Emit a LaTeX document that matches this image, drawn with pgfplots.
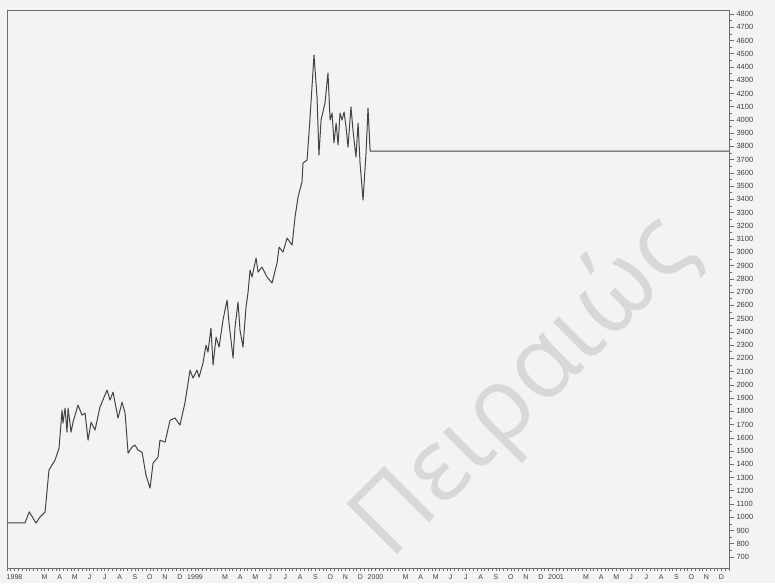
\documentclass[border=0pt]{standalone}
\usepackage{pgfplots}
\pgfplotsset{compat=1.18}
\usepackage{fontspec}
\setmainfont{Liberation Sans}
\newfontfamily\wmfont{Open Sans}
\usetikzlibrary{backgrounds}
\definecolor{bg}{HTML}{F3F3F3}
\definecolor{wm}{HTML}{D8D8D8}
\definecolor{ln}{HTML}{444444}
\definecolor{ax}{HTML}{6E6E6E}
\begin{document}
\begin{tikzpicture}
\begin{axis}[
  name=ax,
  scale only axis,
  width=722pt, height=558pt,
  xmin=0, xmax=48, ymin=617, ymax=4830,
  axis line style={ax, line width=0.8pt},
  axis y line*=right,
  axis x line*=bottom,
  ytick={700,800,...,4800},
  minor y tick num=1,
  yticklabel style={font=\fontsize{7.5}{8}\selectfont, text=black!75, xshift=-1pt},
  /pgf/number format/assume math mode=true,
  /pgf/number format/1000 sep={},
  ytick align=outside,
  xtick align=outside,
  major tick length=5pt, minor tick length=2.5pt,
  tick style={ax, line width=0.6pt},
  xtick={0.5,2.5,3.5,4.5,5.5,6.5,7.5,8.5,9.5,10.5,11.5,
         12.5,14.5,15.5,16.5,17.5,18.5,19.5,20.5,21.5,22.5,23.5,
         24.5,26.5,27.5,28.5,29.5,30.5,31.5,32.5,33.5,34.5,35.5,
         36.5,38.5,39.5,40.5,41.5,42.5,43.5,44.5,45.5,46.5,47.5},
  major x tick style={draw=none},
  xticklabels={1998,M,A,M,J,J,A,S,O,N,D,1999,M,A,M,J,J,A,S,O,N,D,2000,M,A,M,J,J,A,S,O,N,D,2001,M,A,M,J,J,A,S,O,N,D},
  xticklabel style={font=\fontsize{7}{8}\selectfont, text=black!75, yshift=2pt},
  minor xtick={0,0.25,...,48},
  extra x ticks={0,1,...,48},
  extra x tick labels={},
  extra x tick style={major tick length=5pt, tick style={ax, line width=0.6pt}},
  clip=false,
]
\node[wm, rotate=45, font=\wmfont\fontsize{100}{100}\selectfont] at (axis cs:34.4,1980) {Πειραιώς};
\draw[ax, line width=0.8pt] (rel axis cs:0,0) -- (rel axis cs:0,1) -- (rel axis cs:1,1);
\addplot[ln, line width=1.0pt, line join=round] coordinates {
(0,958) (1.20,958) (1.48,1041) (1.93,956) (2.19,1001) (2.53,1039) (2.79,1356) (2.99,1394)
(3.19,1431) (3.46,1522) (3.66,1809) (3.72,1711) (3.86,1824) (3.99,1643) (4.06,1824) (4.26,1643)
(4.39,1718) (4.72,1847) (4.99,1771) (5.19,1786) (5.39,1582) (5.59,1718) (5.85,1658) (6.18,1832)
(6.65,1960) (6.85,1885) (7.05,1945) (7.38,1749) (7.65,1869) (7.85,1786) (8.05,1484) (8.31,1530)
(8.51,1545) (8.71,1507) (8.98,1492) (9.24,1318) (9.51,1220) (9.71,1409) (10.04,1454) (10.17,1582)
(10.51,1567) (10.84,1733) (11.17,1749) (11.50,1696) (11.84,1869) (12.17,2111) (12.37,2051) (12.63,2111)
(12.77,2058) (13.03,2164) (13.23,2300) (13.36,2247) (13.56,2428) (13.70,2149) (13.90,2360) (14.10,2285)
(14.36,2489) (14.63,2640) (14.76,2466) (15.03,2202) (15.16,2436) (15.36,2625) (15.49,2413) (15.69,2285)
(15.89,2587) (16.02,2693) (16.16,2866) (16.29,2814) (16.56,2957) (16.69,2851) (16.95,2889) (17.29,2814)
(17.62,2768) (17.95,2919) (18.09,3040) (18.35,3002) (18.62,3108) (18.95,3055) (19.15,3267) (19.35,3418)
(19.61,3531) (19.68,3675) (19.95,3697) (20.15,4022) (20.41,4490) (20.61,4173) (20.74,3735) (20.88,3999)
(21.14,4128) (21.34,4354) (21.48,3999) (21.61,4052) (21.74,3826) (21.88,3977) (22.01,3811) (22.14,4052)
(22.27,3999) (22.41,4060) (22.54,3947) (22.67,3795) (22.87,4098) (23.00,3924) (23.20,3720) (23.34,3977)
(23.47,3675) (23.67,3395) (23.87,3750) (24.00,4090) (24.14,3765) (48,3765)
};
\end{axis}
\pgfresetboundingbox
\path ([shift={(-7pt,-15pt)}]ax.south west) rectangle ([shift={(46pt,10pt)}]ax.north east);
\begin{pgfonlayer}{background}
\fill[bg] ([shift={(-7pt,-15pt)}]ax.south west) rectangle ([shift={(46pt,10pt)}]ax.north east);
\end{pgfonlayer}
\end{tikzpicture}
\end{document}
